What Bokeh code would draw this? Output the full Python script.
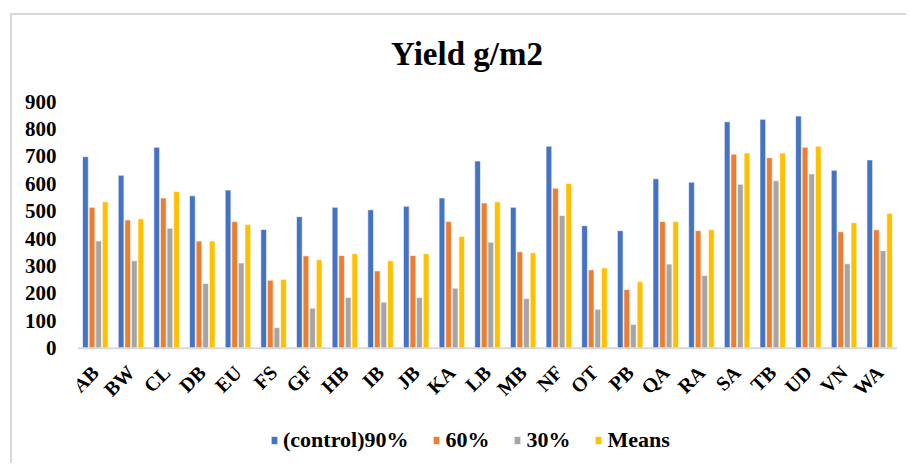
import math
from bokeh.plotting import figure
from bokeh.models import (FactorRange, Range1d, FixedTicker, Legend, LegendItem,
                          ColumnDataSource, Span)
from bokeh.transform import dodge
from bokeh.core.properties import value
from bokeh.embed import file_html
from bokeh.resources import INLINE

categories = ["AB", "BW", "CL", "DB", "EU", "FS", "GF", "HB", "IB", "JB", "KA", "LB",
              "MB", "NF", "OT", "PB", "QA", "RA", "SA", "TB", "UD", "VN", "WA"]
control90 = [699, 631, 733, 556, 577, 433, 480, 514, 505, 518, 548, 683,
             514, 737, 447, 429, 618, 606, 826, 835, 847, 649, 687]
pct60 = [514, 468, 548, 391, 462, 248, 337, 338, 282, 338, 462, 530,
         352, 584, 286, 214, 462, 429, 708, 695, 733, 425, 432]
pct30 = [391, 319, 438, 236, 311, 75, 146, 185, 168, 185, 219, 387,
         181, 484, 142, 87, 307, 265, 598, 611, 636, 308, 356]
means = [534, 472, 572, 391, 451, 251, 323, 345, 319, 345, 408, 534,
         348, 601, 293, 243, 462, 432, 712, 712, 737, 458, 492]
series_names = ["(control)90%", "60%", "30%", "Means"]
y_ticks = [0, 100, 200, 300, 400, 500, 600, 700, 800, 900]
title_text = "Yield g/m2"

colors = ["#4472C4", "#ED7D31", "#A5A5A5", "#FFC000"]
offsets = [-0.2775, -0.0925, 0.0925, 0.2775]
FONT = "Liberation Serif"

source = ColumnDataSource(dict(cat=categories, s0=control90, s1=pct60, s2=pct30, s3=means))

# frame covers the whole canvas height; value axis shows 0..900
p = figure(x_range=FactorRange(factors=categories), y_range=Range1d(-428, 1214),
           width=896, height=450, output_backend="svg", toolbar_location=None,
           x_axis_location=None,
           min_border_left=65, min_border_right=11, min_border_top=0,
           min_border_bottom=0)
p.styles = {"margin-left": "10px", "margin-top": "13px",
            "border-left": "2px solid #d9d9d9", "border-top": "2px solid #d9d9d9"}

renderers = []
for i, (col, c) in enumerate(zip(["s0", "s1", "s2", "s3"], colors)):
    r = p.vbar(x=dodge("cat", offsets[i], range=p.x_range), top=col, width=0.16,
               source=source, fill_color=c, line_color="white", line_width=0.6)
    renderers.append(r)

# category axis line and labels
p.add_layout(Span(location=0, dimension="width", line_color="#d9d9d9", line_width=2))
p.text(x=dodge("cat", 0.0, range=p.x_range), y=-76, text="cat", source=source,
       angle=math.pi / 4, text_align="right", text_baseline="middle",
       text_font=value(FONT), text_font_style="bold", text_font_size="20px",
       text_color="black")

# title
tsrc = ColumnDataSource(dict(x=["KA"], t=[title_text]))
p.text(x=dodge("x", 0.425, range=p.x_range), y=1075, text="t", source=tsrc,
       text_align="center", text_baseline="alphabetic",
       text_font=value(FONT), text_font_style="bold", text_font_size="33px",
       text_color="black")

p.xgrid.grid_line_color = None
p.ygrid.grid_line_color = None
p.outline_line_color = None
p.background_fill_color = "white"
p.border_fill_color = "white"

p.yaxis.ticker = FixedTicker(ticks=y_ticks)
p.yaxis.axis_line_color = None
p.yaxis.major_tick_line_color = None
p.yaxis.minor_tick_line_color = None
p.yaxis.major_label_text_font = FONT
p.yaxis.major_label_text_font_style = "bold"
p.yaxis.major_label_text_font_size = "21px"
p.yaxis.major_label_text_color = "black"
p.yaxis.major_label_standoff = 15

legend = Legend(items=[LegendItem(label=n, renderers=[r]) for n, r in zip(series_names, renderers)],
                orientation="horizontal", location=(193, 12),
                label_text_font=FONT, label_text_font_style="bold",
                label_text_font_size="22px", label_text_color="black",
                label_standoff=5, spacing=24,
                glyph_width=8, glyph_height=10, border_line_color=None,
                background_fill_alpha=0, padding=4, margin=0)
p.add_layout(legend, "center")

open("out.html", "w").write(file_html(p, INLINE))
